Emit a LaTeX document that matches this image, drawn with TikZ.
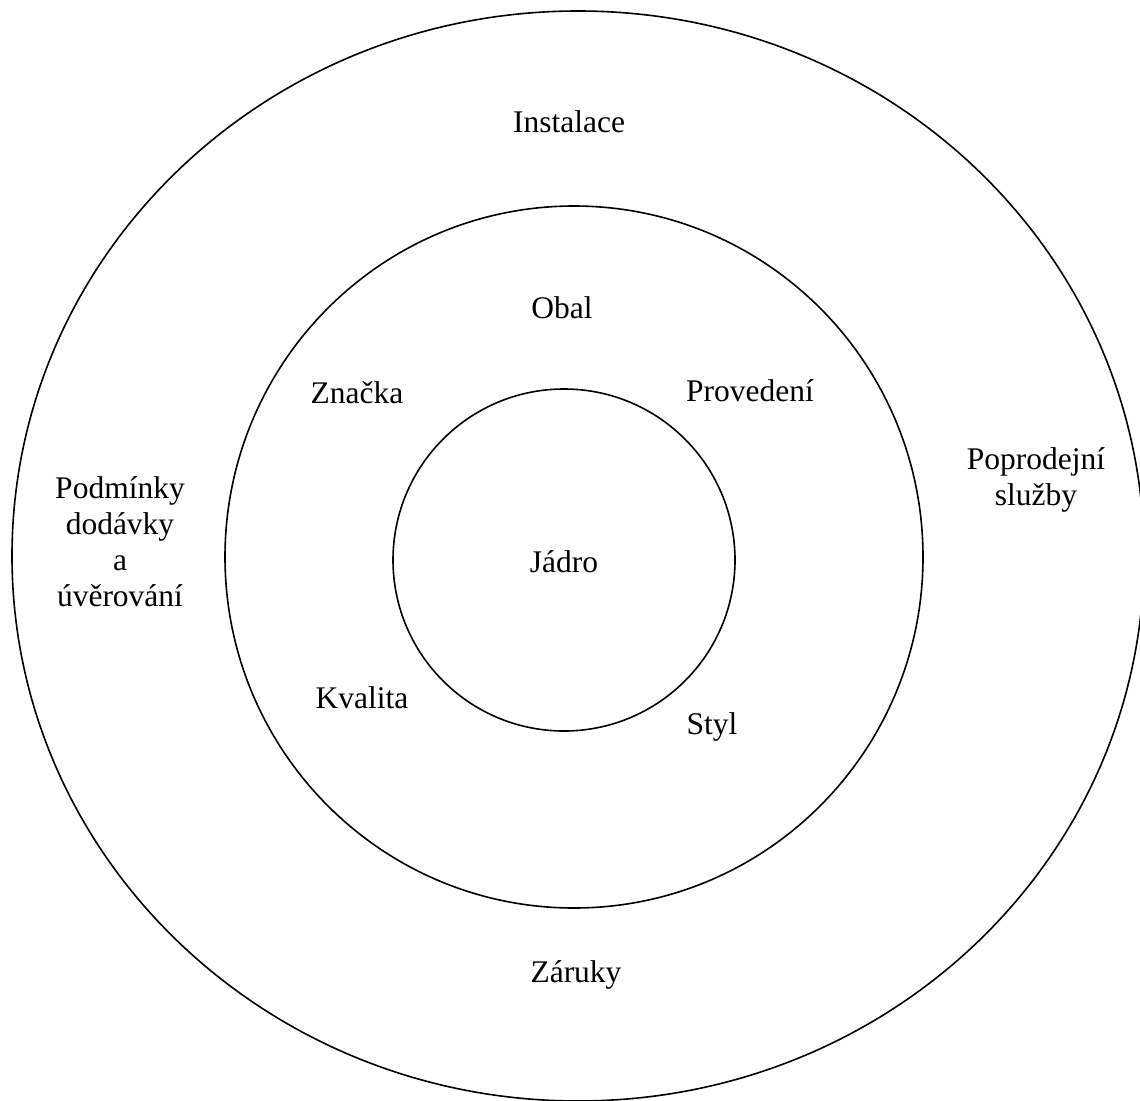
\documentclass[tikz,border=0pt]{standalone}
\usepackage{fontspec}
\setmainfont{Liberation Serif}
\usepackage{tikz}

\tikzset{
  txt/.style={font=\fontsize{31.5}{36}\selectfont, align=center, inner sep=0pt},
  ring/.style={black, line width=1.6pt}
}

\begin{document}
\begin{tikzpicture}[x=1pt, y=-1pt]
        \useasboundingbox (0,0) rectangle (1140,1100);
        \begin{scope}
            \clip (0,0) rectangle (1140,1100);
            \draw[ring] (578,556) ellipse (566 and 545);
        \end{scope}
        \draw[ring] (574,557) ellipse (349 and 351);
        \draw[ring] (564,560) circle (171);
        % outer ring
        \node[txt] (instalace) at (569,122) {Instalace};
        \node[txt] (podminky) at (120,542) {Podmínky\\dodávky\\a\\úvěrování};
        \node[txt] (poprodejni) at (1036,480) {Poprodejní\\služby};
        \node[txt] (zaruky) at (576,975) {Záruky};
        % middle ring
        \node[txt] (obal) at (562,308) {Obal};
        \node[txt] (znacka) at (357,393) {Značka};
        \node[txt] (provedeni) at (750,391) {Provedení};
        \node[txt] (kvalita) at (362,698) {Kvalita};
        \node[txt] (styl) at (712,727) {Styl};
        % core
        \node[txt] (jadro) at (564,562) {Jádro};
    \end{tikzpicture}
\end{document}
